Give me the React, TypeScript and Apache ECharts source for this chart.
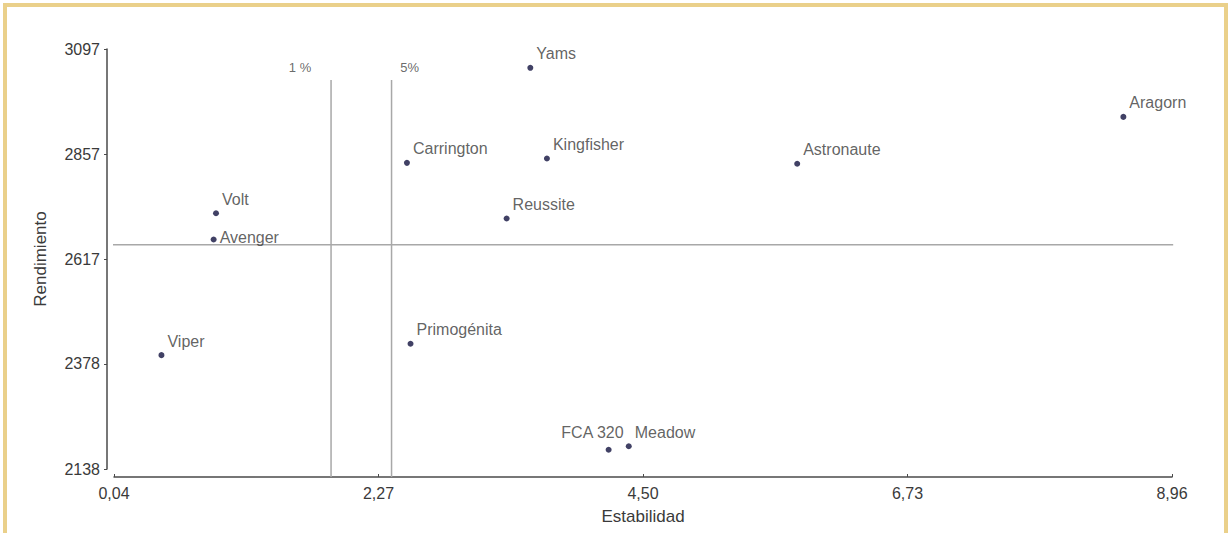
import React, { useEffect, useRef } from "react";
import * as echarts from "echarts";

// ---- data ----
const varieties = [
  "Yams", "Aragorn", "Carrington", "Kingfisher", "Astronaute", "Reussite",
  "Volt", "Avenger", "Viper", "Primogénita", "FCA 320", "Meadow",
];
const estabilidad = [3.55, 8.55, 2.51, 3.69, 5.80, 3.35, 0.90, 0.88, 0.44, 2.54, 4.21, 4.38];
const rendimiento = [3054, 2942, 2837, 2847, 2835, 2710, 2722, 2662, 2398, 2424, 2182, 2190];

const xTicks = [0.04, 2.27, 4.5, 6.73, 8.96];
const xTickLabels = ["0,04", "2,27", "4,50", "6,73", "8,96"];
const yTicks = [2138, 2378, 2617, 2857, 3097];
const yTickLabels = ["2138", "2378", "2617", "2857", "3097"];

const meanYield = 2650;
const thresholdNames = ["1 %", "5%"];
const thresholdValues = [1.87, 2.38];

const xName = "Estabilidad";
const yName = "Rendimiento";

export default function App() {
  const ref = useRef<HTMLDivElement>(null);

  useEffect(() => {
    if (!ref.current) return;
    const chart = echarts.init(ref.current, null, { renderer: "svg" });

    const font = "'Liberation Sans', Arial, sans-serif";
    const xMin = xTicks[0];
    const xMax = xTicks[xTicks.length - 1];
    const yMin = yTicks[0];
    const yMax = yTicks[yTicks.length - 1];

    // reference-line extents (layout)
    const vTop = 3026;
    const vBottom = 2120;
    const hLeft = -0.02;
    const hRight = 8.97;

    const labelOffsets: Record<string, any> = {
      Avenger: { position: "right", offset: [0, -2] },
      "FCA 320": { position: "left", offset: [21, -17] },
    };

    const points = varieties.map((name, i) => {
      const o = labelOffsets[name] || { position: "right", offset: [0, -14] };
      return {
        name,
        value: [estabilidad[i], rendimiento[i]],
        label: { show: true, formatter: name, position: o.position, offset: o.offset },
      };
    });

    const thresholdOffsets = [[-31, -13], [18, -13]];

    const series: any[] = [
      {
        type: "line",
        data: [[hLeft, meanYield], [hRight, meanYield]],
        symbol: "none",
        clip: false,
        silent: true,
        lineStyle: { color: "#a8a8a8", width: 1.5 },
        z: 1,
      },
      ...thresholdValues.map((v) => ({
        type: "line",
        data: [[v, vTop], [v, vBottom]],
        symbol: "none",
        clip: false,
        silent: true,
        lineStyle: { color: "#a8a8a8", width: 1.5 },
        z: 1,
      })),
      {
        type: "scatter",
        data: thresholdValues.map((v, i) => ({
          value: [v, vTop],
          label: {
            show: true,
            formatter: thresholdNames[i],
            position: "inside",
            offset: thresholdOffsets[i],
            fontSize: 13,
            color: "#444",
            fontFamily: font,
          },
        })),
        symbolSize: 0,
        silent: true,
        clip: false,
      },
      {
        type: "scatter",
        data: points,
        symbolSize: 6,
        itemStyle: { color: "#12123f" },
        label: {
          fontSize: 16,
          color: "#3a3a3a",
          fontFamily: font,
          distance: 3,
        },
        z: 3,
      },
    ];

    chart.setOption({
      animation: false,
      backgroundColor: "transparent",
      textStyle: { fontFamily: font },
      grid: { left: 109, right: 51, top: 44, bottom: 64 },
      xAxis: {
        type: "value",
        min: xMin,
        max: xMax,
        offset: 8,
        name: xName,
        nameLocation: "middle",
        nameGap: 31,
        nameTextStyle: { fontSize: 17, color: "#3a3a3a", fontFamily: font },
        splitLine: { show: false },
        axisLine: { show: true, lineStyle: { color: "#4a4a4a", width: 1.5 } },
        axisTick: { show: true, inside: true, length: 3, customValues: xTicks, lineStyle: { color: "#4a4a4a" } },
        axisLabel: {
          customValues: xTicks,
          formatter: (v: number) => {
            const idx = xTicks.findIndex((t) => Math.abs(t - v) < 1e-6);
            return idx >= 0 ? xTickLabels[idx] : "";
          },
          fontSize: 16,
          color: "#3a3a3a",
          margin: 8,
          fontFamily: font,
        },
      },
      yAxis: {
        type: "value",
        min: yMin,
        max: yMax,
        offset: 7,
        name: yName,
        nameLocation: "middle",
        nameGap: 58,
        nameTextStyle: { fontSize: 17, color: "#3a3a3a", fontFamily: font },
        splitLine: { show: false },
        axisLine: { show: true, lineStyle: { color: "#4a4a4a", width: 1.5 } },
        axisTick: { show: true, length: 3, customValues: yTicks, lineStyle: { color: "#4a4a4a" } },
        axisLabel: {
          customValues: yTicks,
          formatter: (v: number) => {
            const idx = yTicks.findIndex((t) => Math.abs(t - v) < 1e-6);
            return idx >= 0 ? yTickLabels[idx] : "";
          },
          fontSize: 16,
          color: "#3a3a3a",
          margin: 7,
          fontFamily: font,
        },
      },
      series,
    });

    return () => chart.dispose();
  }, []);

  return (
    <div
      style={{
        position: "absolute",
        left: 0,
        top: 0,
        width: 1228,
        height: 533,
        overflow: "hidden",
        background: "#ffffff",
      }}
    >
      <div
        style={{
          position: "absolute",
          left: 3,
          top: 3,
          width: 1217,
          height: 600,
          border: "4px solid #ead08a",
          borderBottom: "none",
        }}
      />
      <div
        ref={ref}
        style={{ position: "absolute", left: 5, top: 5, width: 1218, height: 528 }}
      />
    </div>
  );
}
